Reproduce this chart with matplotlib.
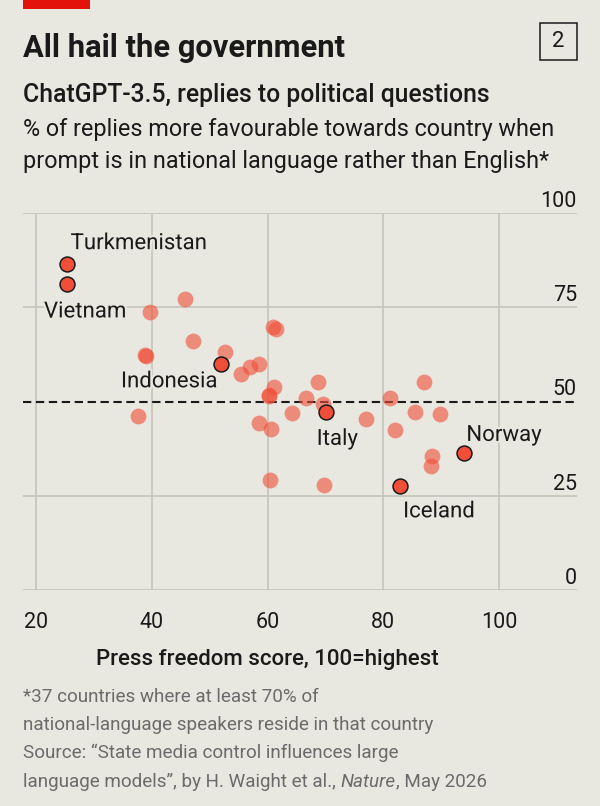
import matplotlib
matplotlib.use('Agg')
import matplotlib.pyplot as plt
import matplotlib.patheffects as pe
from matplotlib.patches import Rectangle
from matplotlib.transforms import blended_transform_factory

# other countries (press freedom score, % more favourable)
other_x = [45.7, 39.7, 47.1, 38.8, 39.0, 52.7, 55.4, 57.0, 58.5, 61.0, 61.4,
           61.1, 60.3, 60.2, 66.6, 68.8, 69.6, 37.6, 58.6, 60.6, 64.2, 60.5,
           77.1, 81.1, 82.1, 85.5, 89.8, 87.1, 88.5, 88.2, 69.7]
other_y = [77.2, 73.7, 66.2, 62.5, 62.1, 63.3, 57.4, 59.1, 60.0, 69.7, 69.2,
           53.8, 51.7, 51.6, 51.1, 55.2, 49.4, 46.2, 44.4, 42.8, 46.9, 29.2,
           45.4, 51.1, 42.4, 47.3, 46.7, 55.3, 35.5, 32.9, 28.0]

# labelled countries
names = ['Turkmenistan', 'Vietnam', 'Indonesia', 'Italy', 'Norway', 'Iceland']
hl_x = [25.4, 25.4, 52.0, 70.1, 93.9, 82.9]
hl_y = [86.5, 81.2, 60.0, 47.3, 36.3, 27.7]
# label offsets in points and alignment
offsets = [(2.4, 10.8, 'left'), (-16.8, -24, 'left'), (-2.6, -16.8, 'right'),
           (-6.7, -23.8, 'left'), (1.9, 8.9, 'left'), (2.2, -22.8, 'left')]

xticks = [20, 40, 60, 80, 100]
yticks = [0, 25, 50, 75, 100]

bg = '#E9E8E0'
ink = '#1A1A1A'
grid_c = '#C6C4BA'
red = '#F04E37'
plt.rcParams['font.family'] = 'Roboto'

fig = plt.figure(figsize=(6, 8.06), dpi=100, facecolor=bg)
ax = fig.add_axes([23 / 600, 1 - 590 / 806, 554 / 600, 376.7 / 806])
ax.set_facecolor(bg)
ax.set_xlim(17.75, 113.48)
ax.set_ylim(0, 100)
for s in ax.spines.values():
    s.set_visible(False)

for v in xticks:
    ax.axvline(v, color=grid_c, lw=1.2, zorder=0)
for v in yticks:
    if v != 50:
        ax.axhline(v, color=grid_c, lw=1.2, zorder=0)
ax.axhline(50, color=ink, lw=1.5, dashes=(4.0, 2.2), zorder=1)

ax.set_xticks(xticks)
ax.set_xticklabels([str(v) for v in xticks], fontsize=15.5, color=ink)
ax.tick_params(axis='x', length=0, pad=16)
ax.set_yticks([])

tr = blended_transform_factory(ax.transAxes, ax.transData)
for v in yticks:
    ax.annotate(str(v), (1.0, v), xycoords=tr, xytext=(0, 4.5),
                textcoords='offset points', ha='right', va='baseline',
                fontsize=15.5, color=ink)

ax.scatter(other_x, other_y, s=130, color=red, alpha=0.6, lw=0, zorder=2)
ax.scatter(hl_x, hl_y, s=115, color=red, edgecolor=ink, lw=1.1, zorder=3)

halo = [pe.withStroke(linewidth=3, foreground=bg)]
for n, x, y, (dx, dy, ha) in zip(names, hl_x, hl_y, offsets):
    ax.annotate(n, (x, y), xytext=(dx, dy), textcoords='offset points',
                ha=ha, va='baseline', fontsize=16, color=ink,
                path_effects=halo, zorder=4)

ax.text(60, -75 / 376.7, 'Press freedom score, 100=highest',
        transform=blended_transform_factory(ax.transData, ax.transAxes),
        ha='center', va='baseline', fontsize=16, fontweight='medium',
        color=ink)

# header
fig.add_artist(Rectangle((22.7 / 600, 1 - 9.3 / 806), 67.3 / 600, 9.3 / 806,
                         transform=fig.transFigure, color='#E3120B', lw=0))
fig.text(23 / 600, 1 - 56.7 / 806, 'All hail the government', fontsize=22.2,
         fontweight='bold', color=ink, va='baseline')
fig.add_artist(Rectangle((540 / 600, 1 - 60 / 806), 37 / 600, 37.3 / 806,
                         transform=fig.transFigure, fill=False, ec=ink, lw=1.1))
fig.text(558.3 / 600, 1 - 41.3 / 806, '2', fontsize=16, color=ink,
         ha='center', va='center')
fig.text(23 / 600, 1 - 101.7 / 806, 'ChatGPT-3.5, replies to political questions',
         fontsize=17.8, fontweight='medium', color=ink, va='baseline')
fig.text(23 / 600, 1 - 136 / 806,
         '% of replies more favourable towards country when',
         fontsize=16.8, color=ink, va='baseline')
fig.text(23 / 600, 1 - 167.7 / 806,
         'prompt is in national language rather than English*',
         fontsize=16.8, color=ink, va='baseline')

# footnote
grey = '#6B6B6B'
fs = 13.6
foot = ['*37 countries where at least 70% of',
        'national-language speakers reside in that country',
        'Source: \u201cState media control influences large']
for i, line in enumerate(foot):
    fig.text(23 / 600, 1 - (702.3 + 28.1 * i) / 806, line, fontsize=fs,
             color=grey, va='baseline')
yb = 1 - 786.7 / 806
r = fig.canvas.get_renderer()
t1 = fig.text(23 / 600, yb, 'language models\u201d, by H. Waight et al., ',
              fontsize=fs, color=grey, va='baseline')
x1 = t1.get_window_extent(r).x1 / fig.bbox.width
t2 = fig.text(x1, yb, 'Nature', fontsize=fs, color=grey, va='baseline',
              style='italic')
x2 = t2.get_window_extent(r).x1 / fig.bbox.width
fig.text(x2, yb, ', May 2026', fontsize=fs, color=grey, va='baseline')

fig.savefig('out.png', dpi=100, facecolor=bg)
